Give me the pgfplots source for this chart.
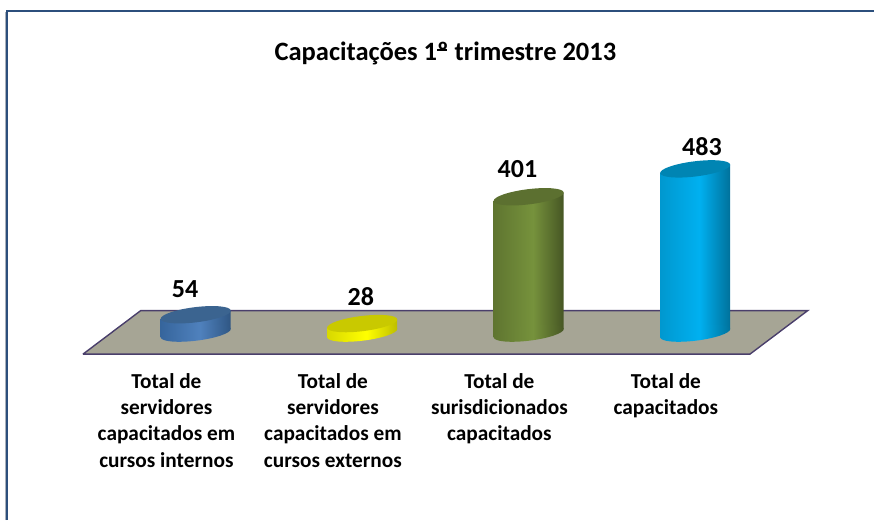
\documentclass[border=0pt]{standalone}
\usepackage{pgfplots}
\pgfplotsset{compat=1.18}
\usepackage{fontspec}
\setmainfont{Carlito}
\definecolor{frameblue}{HTML}{2C4F7C}
\definecolor{frameshadow}{HTML}{A9B0BA}
\definecolor{floorfill}{HTML}{A6A595}
\definecolor{floorline}{HTML}{4A3F6B}
\definecolor{btop}{HTML}{3B6490}
\definecolor{ytop}{HTML}{C9C900}
\definecolor{gtop}{HTML}{5C7030}
\definecolor{ctop}{HTML}{0085B3}
\definecolor{HTMLb1}{HTML}{36659C}
\definecolor{HTMLb2}{HTML}{4F81BD}
\definecolor{HTMLb3}{HTML}{2F5683}
\definecolor{HTMLy1}{HTML}{D8D800}
\definecolor{HTMLy2}{HTML}{FFFF00}
\definecolor{HTMLy3}{HTML}{BDBD00}
\definecolor{HTMLg1}{HTML}{5F7530}
\definecolor{HTMLg2}{HTML}{76923C}
\definecolor{HTMLg3}{HTML}{465624}
\definecolor{HTMLc1}{HTML}{0098CF}
\definecolor{HTMLc2}{HTML}{00B0F0}
\definecolor{HTMLc3}{HTML}{00719B}
\pgfdeclarehorizontalshading{cylblue}{100bp}{color(0bp)=(HTMLb1);color(25bp)=(HTMLb1);color(53bp)=(HTMLb2);color(75bp)=(HTMLb3);color(100bp)=(HTMLb3)}
\pgfdeclarehorizontalshading{cylyellow}{100bp}{color(0bp)=(HTMLy1);color(25bp)=(HTMLy1);color(53bp)=(HTMLy2);color(75bp)=(HTMLy3);color(100bp)=(HTMLy3)}
\pgfdeclarehorizontalshading{cylgreen}{100bp}{color(0bp)=(HTMLg1);color(25bp)=(HTMLg1);color(53bp)=(HTMLg2);color(75bp)=(HTMLg3);color(100bp)=(HTMLg3)}
\pgfdeclarehorizontalshading{cylcyan}{100bp}{color(0bp)=(HTMLc1);color(25bp)=(HTMLc1);color(53bp)=(HTMLc2);color(75bp)=(HTMLc3);color(100bp)=(HTMLc3)}
\pgfdeclareplotmark{cyltop}{%
  \pgfpathellipse{\pgfpointorigin}{\pgfpointpolar{7}{35.3pt}}{\pgfpointpolar{97}{7.6pt}}%
  \pgfusepathqfill}
\newcommand\basemark[1]{%
  \pgfdeclareplotmark{base#1}{%
    \pgfpathellipse{\pgfpointorigin}{\pgfpointpolar{7}{35.3pt}}{\pgfpointpolar{97}{7.6pt}}%
    \pgfshadepath{cyl#1}{0}\pgfusepath{}}}
\basemark{blue}\basemark{yellow}\basemark{green}\basemark{cyan}
\begin{document}
\begin{tikzpicture}[x=1pt,y=1pt]
\begin{axis}[
  scale only axis, width=874pt, height=520pt,
  xmin=-1.1754, xmax=4.0739, ymin=-550, ymax=979.4,
  axis line style={draw=none},
  major tick length=0pt,
  ytick=\empty,
  xtick={0,1,2,3},
  /pgf/number format/assume math mode=true,
  xticklabels={
    {Total de\\servidores\\capacitados em\\cursos internos},
    {Total de\\servidores\\capacitados em\\cursos externos},
    {Total de\\surisdicionados\\capacitados},
    {Total de\\capacitados}},
  xticklabel style={align=center, anchor=north, xshift=-29.3pt, yshift=150pt,
    font=\fontsize{21.3}{26.2}\selectfont\bfseries},
  nodes near coords style={font=\fontsize{26}{28}\selectfont\bfseries, anchor=center, inner sep=0pt},
]
% frame
\addplot[frameshadow, line width=1pt, forget plot] coordinates {(-1.143,-550) (-1.143,945)};
\addplot[frameblue, line width=2pt, forget plot] coordinates {(-1.1335,-550) (-1.1335,947) (4.0739,947)};
% floor
\addplot[draw=floorline, fill=floorfill, line width=1.4pt, forget plot]
  coordinates {(-0.677,-61.8) (-0.330,66.2) (3.676,66.2) (3.329,-61.8) (-0.677,-61.8)};
% cylinder bases
\addplot[only marks, mark=baseblue] coordinates {(0,0)};
\addplot[only marks, mark=baseyellow] coordinates {(1,0)};
\addplot[only marks, mark=basegreen] coordinates {(2,0)};
\addplot[only marks, mark=basecyan] coordinates {(3,0)};
% bodies
\addplot[draw=none, shading=cylblue] coordinates {(-0.2102,-12) (0.2102,12) (0.2102,66) (-0.2102,42) (-0.2102,-12)};
\addplot[draw=none, shading=cylyellow] coordinates {(0.7898,-12) (1.2102,12) (1.2102,40) (0.7898,16) (0.7898,-12)};
\addplot[draw=none, shading=cylgreen] coordinates {(1.7898,-12) (2.2102,12) (2.2102,413) (1.7898,389) (1.7898,-12)};
\addplot[draw=none, shading=cylcyan] coordinates {(2.7898,-12) (3.2102,12) (3.2102,495) (2.7898,471) (2.7898,-12)};
% tops with values
\addplot[only marks, mark=cyltop, mark options={fill=btop}, color=btop, text=black, nodes near coords,
  nodes near coords style={xshift=-10.7pt, yshift=25.4pt}] coordinates {(0,54)};
\addplot[only marks, mark=cyltop, mark options={fill=ytop}, color=ytop, text=black, nodes near coords,
  nodes near coords style={xshift=-1.3pt, yshift=27.4pt}] coordinates {(1,28)};
\addplot[only marks, mark=cyltop, mark options={fill=gtop}, color=gtop, text=black, nodes near coords,
  nodes near coords style={xshift=-11.3pt, yshift=27.4pt}] coordinates {(2,401)};
\addplot[only marks, mark=cyltop, mark options={fill=ctop}, color=ctop, text=black, nodes near coords,
  nodes near coords style={xshift=6.7pt, yshift=22.6pt}] coordinates {(3,483)};
% title
\node[font=\fontsize{26.5}{30}\selectfont\bfseries, anchor=center] at (axis cs:1.5,822) {Capacitações 1\makebox[0pt][l]{\rule[0.36em]{0.36em}{0.07em}}º trimestre 2013};
\end{axis}
\end{tikzpicture}
\end{document}
